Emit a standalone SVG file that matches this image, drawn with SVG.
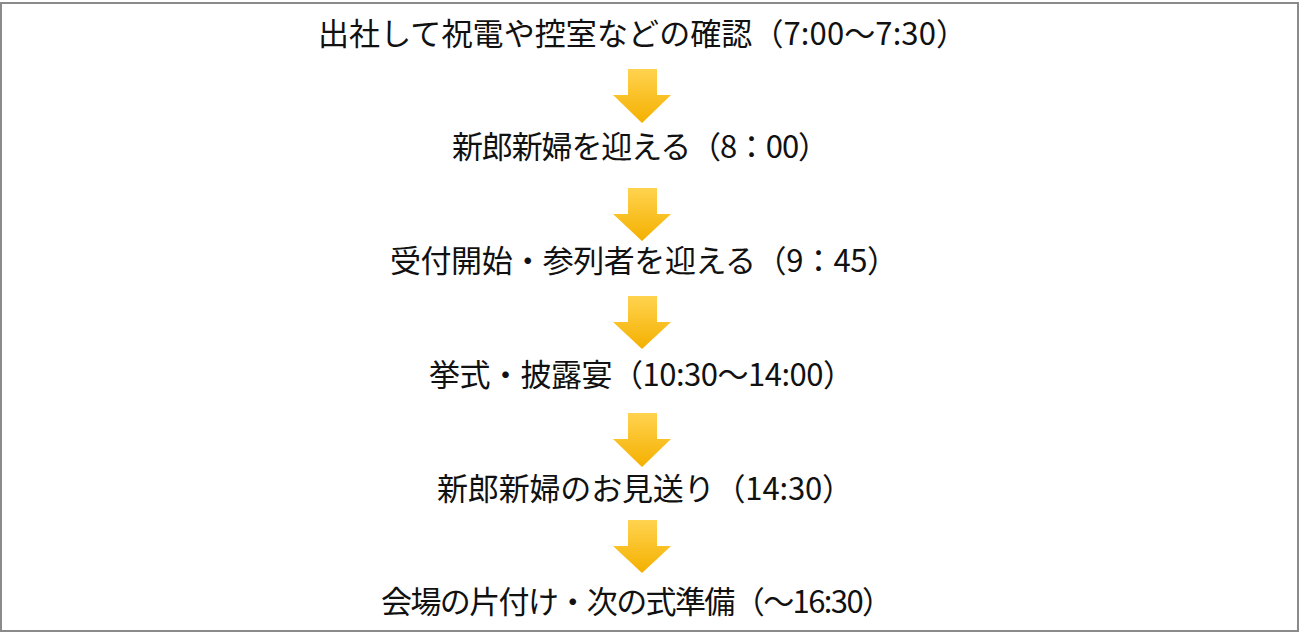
<svg xmlns="http://www.w3.org/2000/svg" width="1301" height="639" viewBox="0 0 1301 639">
<style>
.t{font-family:"Noto Sans CJK JP","Noto Sans CJK SC",sans-serif;font-size:31px;fill:#111;text-anchor:middle}
.a{fill:url(#g)}
</style>
<defs>
<linearGradient id="g" x1="0" y1="0" x2="0" y2="1">
<stop offset="0" stop-color="#FFD34F"/>
<stop offset="1" stop-color="#F4B000"/>
</linearGradient>
</defs>
<rect x="1" y="3" width="1297" height="628" fill="#fff" stroke="#8a8a8a" stroke-width="2"/>
<g id="connectors">
<path class="a" d="M628 69H657V95H671L642 123L613 95H628Z"/>
<path class="a" d="M628 188H657V214H671L642 241L613 214H628Z"/>
<path class="a" d="M628 296H657V322H671L642 349L613 322H628Z"/>
<path class="a" d="M628 413H657V439H671L642 467L613 439H628Z"/>
<path class="a" d="M628 520H657V546H671L642 573L613 546H628Z"/>
</g>
<g id="n1"><text class="t" x="642.5" y="45" textLength="649">出社して祝電や控室などの確認（7:00〜7:30）</text></g>
<g id="n2"><text class="t" x="640.5" y="158" textLength="377">新郎新婦を迎える（8：00）</text></g>
<g id="n3"><text class="t" x="644" y="272" textLength="508">受付開始・参列者を迎える（9：45）</text></g>
<g id="n4"><text class="t" x="641.5" y="386" textLength="425">挙式・披露宴（10:30〜14:00）</text></g>
<g id="n5"><text class="t" x="645" y="500" textLength="416">新郎新婦のお見送り（14:30）</text></g>
<g id="n6"><text class="t" x="637" y="613" textLength="512">会場の片付け・次の式準備（〜16:30）</text></g>
</svg>
